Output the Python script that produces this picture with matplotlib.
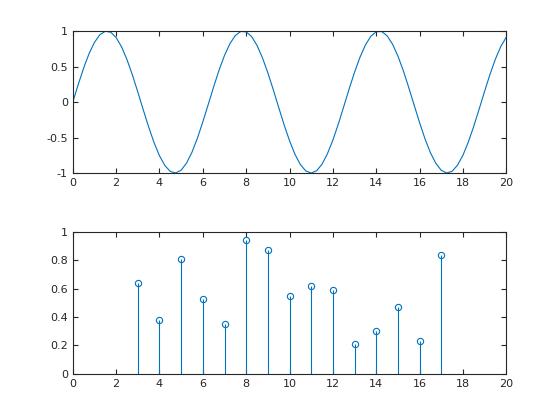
import numpy as np
import matplotlib
matplotlib.use("Agg")
import matplotlib.pyplot as plt

# top panel: wave
x_wave = np.arange(0, 81) * 0.25
y_wave = [0.000, 0.247, 0.479, 0.682, 0.841, 0.949, 0.997, 0.984, 0.909, 0.778,
          0.598, 0.382, 0.141, -0.108, -0.351, -0.572, -0.757, -0.895, -0.978, -0.999,
          -0.959, -0.859, -0.706, -0.509, -0.279, -0.033, 0.215, 0.451, 0.657, 0.823,
          0.938, 0.995, 0.989, 0.923, 0.798, 0.624, 0.412, 0.174, -0.075, -0.320,
          -0.544, -0.735, -0.880, -0.971, -1.000, -0.968, -0.875, -0.727, -0.537, -0.311,
          -0.066, 0.183, 0.420, 0.630, 0.803, 0.926, 0.991, 0.994, 0.935, 0.817,
          0.650, 0.443, 0.206, -0.042, -0.288, -0.517, -0.712, -0.863, -0.961, -0.999,
          -0.976, -0.890, -0.751, -0.564, -0.342, -0.099, 0.150, 0.390, 0.605, 0.784,
          0.913]

# bottom panel: stems
x_stem = [3, 4, 5, 6, 7, 8, 9, 10, 11, 12, 13, 14, 15, 16, 17]
y_stem = [0.64, 0.38, 0.81, 0.53, 0.35, 0.94, 0.87, 0.55, 0.62, 0.59, 0.21, 0.30, 0.47, 0.23, 0.84]

blue = "#0072BD"
axcol = "#262626"

fig = plt.figure(figsize=(5.6, 4.2), dpi=100)
ax1 = fig.add_axes([0.130, 0.588, 0.774, 0.338])
ax2 = fig.add_axes([0.130, 0.110, 0.774, 0.338])

ax1.plot(x_wave, y_wave, color=blue, lw=0.8)
ax1.set_xlim(0, 20)
ax1.set_ylim(-1, 1)
ax1.set_xticks(range(0, 21, 2))
ax1.set_yticks([-1, -0.5, 0, 0.5, 1])
ax1.set_yticklabels(["-1", "-0.5", "0", "0.5", "1"])

ml, sl, bl = ax2.stem(x_stem, y_stem, basefmt=" ")
plt.setp(sl, color=blue, lw=0.8)
plt.setp(ml, color=blue, marker="o", markersize=4.5, markerfacecolor="none", markeredgewidth=0.8)
ax2.set_xlim(0, 20)
ax2.set_ylim(0, 1)
ax2.set_xticks(range(0, 21, 2))
ax2.set_yticks([0, 0.2, 0.4, 0.6, 0.8, 1])
ax2.set_yticklabels(["0", "0.2", "0.4", "0.6", "0.8", "1"])

for ax in (ax1, ax2):
    for s in ax.spines.values():
        s.set_color(axcol)
        s.set_linewidth(0.8)
    ax.tick_params(direction="in", top=True, right=True, length=3.5, width=0.8,
                   colors=axcol, labelsize=8)

fig.savefig("out.png", dpi=100)
